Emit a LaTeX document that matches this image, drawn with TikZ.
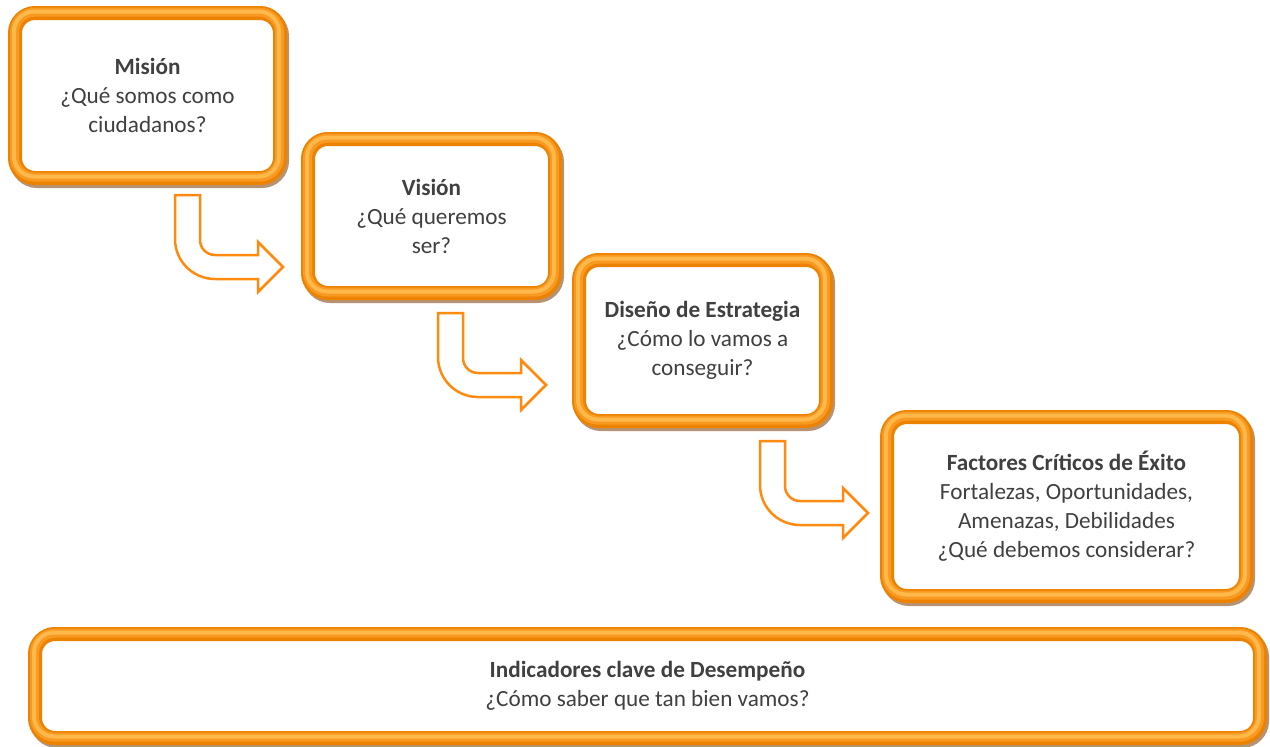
\documentclass[tikz,border=0pt]{standalone}
\usepackage{fontspec}
\setmainfont{Carlito}
\definecolor{txt}{HTML}{404040}
\definecolor{obase}{HTML}{EC8200}
\definecolor{omid}{HTML}{F89A22}
\definecolor{olight}{HTML}{FFB84A}
\definecolor{oshadow}{HTML}{7A3C00}
\definecolor{oarrow}{HTML}{FF8A10}
\tikzset{
  box/.style={rectangle, rounded corners=20pt, draw=obase, line width=14pt, fill=white,
    align=center, text=txt, font=\fontsize{23.2}{29}\selectfont, inner sep=0pt,
    preaction={draw=oshadow, draw opacity=0.55, line width=14pt, transform canvas={xshift=2pt,yshift=-3pt}},
    postaction={draw=omid, line width=9pt, transform canvas={xshift=-0.5pt,yshift=0.8pt}},
    postaction={draw=olight, line width=4pt, transform canvas={xshift=-1pt,yshift=1.5pt}}},
  arr/.style={draw=oarrow, line width=2.5pt, fill=white, line join=miter},
  bentarrow/.pic={\draw[arr] (0,0) -- (25,0) -- (25,45) .. controls (25,53.3) and (31.7,60) .. (40,60)
     -- (83,60) -- (83,47) -- (108,72) -- (83,97) -- (83,84) -- (40,84)
     .. controls (17.9,84) and (0,66.1) .. (0,44) -- cycle;}
}
\begin{document}
\begin{tikzpicture}[x=1pt,y=-1pt]
\useasboundingbox[fill=white] (0,0) rectangle (1270,747);
\node[box, minimum width=265pt, minimum height=165pt] (mision) at (147.5,95.5)
  {\textbf{Misión}\\¿Qué somos como\\ciudadanos?};
\node[box, minimum width=247pt, minimum height=154pt] (vision) at (431.5,216)
  {\textbf{Visión}\\¿Qué queremos\\ser?};
\node[box, minimum width=247pt, minimum height=161pt] (diseno) at (702.5,340.5)
  {\textbf{Diseño de Estrategia}\\¿Cómo lo vamos a\\conseguir?};
\node[box, minimum width=359pt, minimum height=179pt] (factores) at (1066.5,506.5)
  {\textbf{Factores Críticos de Éxito}\\Fortalezas, Oportunidades,\\Amenazas, Debilidades\\¿Qué debemos considerar?};
\node[box, minimum width=1225pt, minimum height=104pt] (indicadores) at (647.5,686)
  {\textbf{Indicadores clave de Desempeño}\\¿Cómo saber que tan bien vamos?};
\pic (a1) at (175,195) {bentarrow};
\pic (a2) at (438,313) {bentarrow};
\pic (a3) at (760,441) {bentarrow};
\end{tikzpicture}
\end{document}
